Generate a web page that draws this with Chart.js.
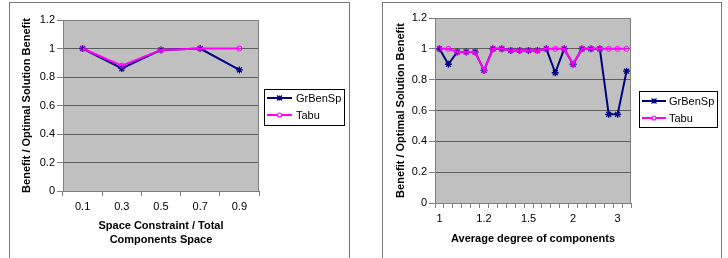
<!DOCTYPE html>
<html><head><meta charset="utf-8">
<script src="https://cdn.jsdelivr.net/npm/chart.js@4/dist/chart.umd.min.js"></script>
<style>
html,body{margin:0;padding:0;background:#fff;width:728px;height:258px;overflow:hidden;}
.frame{position:absolute;top:2px;border:1px solid #7a7a7a;border-bottom:none;height:256px;}
#f1{left:9px;width:339px;}
#f2{left:382px;width:338px;}
canvas{display:block;}
</style></head><body>
<div class="frame" id="f1"><canvas id="c1" width="339" height="255"></canvas></div>
<div class="frame" id="f2"><canvas id="c2" width="338" height="255"></canvas></div>
<script>
// ---- data ----
const spaceCategories = ['0.1','0.3','0.5','0.7','0.9'];
const spaceGrBenSp = [1.0, 0.86, 0.99, 1.0, 0.85];
const spaceTabu    = [1.0, 0.88, 0.99, 1.0, 1.0];

const degreeCategories = ['1','','','','','1.2','','','','','1.5','','','','','2','','','','','3',''];
const degreeGrBenSp = [1.0,0.9,0.98,0.98,0.98,0.86,1.0,1.0,0.99,0.99,0.99,0.99,1.0,0.845,1.0,0.9,1.0,1.0,1.0,0.575,0.575,0.855];
const degreeTabu    = [1.0,1.0,0.98,0.98,0.98,0.86,1.0,1.0,0.99,0.99,0.99,0.99,1.0,1.0,1.0,0.9,1.0,1.0,1.0,1.0,1.0,1.0];

const seriesNames = ['GrBenSp','Tabu'];
const yMin = 0, yMax = 1.2, yStep = 0.2;

const FONT = "'Liberation Sans', Arial, sans-serif";
Chart.defaults.font.family = FONT;
Chart.defaults.color = '#000';

const plotBg = {
  id: 'plotBg',
  beforeDraw(chart) {
    const {ctx, chartArea: a} = chart;
    ctx.save(); ctx.fillStyle = '#c0c0c0';
    ctx.fillRect(a.left, a.top, a.right - a.left, a.bottom - a.top);
    ctx.restore();
  },
  afterDraw(chart) {
    const {ctx, chartArea: a} = chart;
    ctx.save(); ctx.strokeStyle = '#808080'; ctx.lineWidth = 1;
    ctx.strokeRect(Math.round(a.left) + 0.5, Math.round(a.top) + 0.5, Math.round(a.right - a.left) - 1, Math.round(a.bottom - a.top));
    ctx.restore();
  }
};

function legendMarker(ctx, style, color, r, x, y) {
  ctx.save();
  ctx.strokeStyle = color; ctx.lineWidth = 1.2;
  ctx.beginPath();
  if (style === 'star') {
    ctx.moveTo(x - r, y - r); ctx.lineTo(x + r, y + r);
    ctx.moveTo(x - r, y + r); ctx.lineTo(x + r, y - r);
    ctx.moveTo(x, y - r); ctx.lineTo(x, y + r);
    ctx.stroke();
  } else {
    ctx.fillStyle = '#fff';
    ctx.arc(x, y, r, 0, Math.PI * 2);
    ctx.fill(); ctx.stroke();
  }
  ctx.restore();
}

const boxLegend = {
  id: 'boxLegend',
  afterDraw(chart, args, o) {
    const ctx = chart.ctx;
    ctx.save();
    ctx.fillStyle = '#fff'; ctx.strokeStyle = '#000'; ctx.lineWidth = 1;
    ctx.fillRect(o.x, o.y, o.w, o.h);
    ctx.strokeRect(o.x + 0.5, o.y + 0.5, o.w, o.h);
    chart.data.datasets.forEach((ds, i) => {
      const y = o.rows[i];
      ctx.strokeStyle = ds.borderColor; ctx.lineWidth = 2;
      ctx.beginPath(); ctx.moveTo(o.lx0, y); ctx.lineTo(o.lx1, y); ctx.stroke();
      legendMarker(ctx, ds.pointStyle, ds.borderColor, ds.pointStyle === 'star' ? 2.5 : 2, (o.lx0 + o.lx1) / 2, y);
      ctx.fillStyle = '#000'; ctx.font = '11px ' + FONT; ctx.textBaseline = 'middle'; ctx.textAlign = 'left';
      ctx.fillText(ds.label, o.tx, y + 0.5);
    });
    ctx.restore();
  }
};

function makeDatasets(g, t) {
  return [
    {label: seriesNames[0], data: g, borderColor: '#000080', backgroundColor: '#000080', borderWidth: 2,
     pointStyle: 'star', pointRadius: 3.5, pointBorderWidth: 1.3, pointBorderColor: '#000080', pointBackgroundColor: '#000080',
     tension: 0, order: 2},
    {label: seriesNames[1], data: t, borderColor: '#ff00ff', backgroundColor: '#ff00ff', borderWidth: 2,
     pointStyle: 'circle', pointRadius: 2.5, pointBorderWidth: 1, pointBorderColor: '#ff00ff', pointBackgroundColor: 'rgba(0,0,0,0)',
     tension: 0, order: 1}
  ];
}

function makeOptions(cfg) {
  return {
    responsive: false, animation: false, devicePixelRatio: 1,
    layout: {padding: {top: cfg.top, right: cfg.right, bottom: 0, left: 0}},
    plugins: {legend: {display: false}, tooltip: {enabled: false}, boxLegend: cfg.legend},
    scales: {
      x: {
        type: 'category', offset: true,
        grid: {offset: true, drawOnChartArea: false, drawTicks: true, tickLength: 5, color: '#808080'},
        border: {display: true, color: '#6b6b6b'},
        ticks: {autoSkip: false, maxRotation: 0, padding: 4, font: {size: 11}, color: '#000'},
        title: {display: true, text: cfg.xTitle, font: {size: 11, weight: 'bold', lineHeight: '14px'}, padding: {top: 0, bottom: cfg.xTitlePad}, color: '#000'},
        afterFit(s) { s.height = cfg.xHeight; }
      },
      y: {
        min: yMin, max: yMax,
        ticks: {stepSize: yStep, padding: 2, font: {size: 11}, color: '#000',
                callback: v => String(Number(v.toFixed(1)))},
        grid: {color: '#5e5e5e', tickColor: '#808080', tickLength: 6},
        border: {display: true, color: '#6b6b6b'},
        title: {display: true, text: 'Benefit / Optimal Solution Benefit', font: {size: 11, weight: 'bold', lineHeight: '14px'}, padding: {top: cfg.yTitlePad, bottom: 0}, color: '#000'},
        afterFit(s) { s.width = cfg.yWidth; }
      }
    }
  };
}

new Chart(document.getElementById('c1'), {
  type: 'line',
  data: {labels: spaceCategories, datasets: makeDatasets(spaceGrBenSp, spaceTabu)},
  options: makeOptions({top: 17, right: 90, xHeight: 67, yWidth: 53, xTitlePad: 11, yTitlePad: 10,
    xTitle: ['Space Constraint / Total', 'Components Space'],
    legend: {x: 254, y: 86, w: 80, h: 36, rows: [95, 112], lx0: 257, lx1: 282, tx: 286}}),
  plugins: [plotBg, boxLegend]
});

new Chart(document.getElementById('c2'), {
  type: 'line',
  data: {labels: degreeCategories, datasets: makeDatasets(degreeGrBenSp, degreeTabu)},
  options: makeOptions({top: 15, right: 90, xHeight: 55, yWidth: 52, xTitlePad: 12, yTitlePad: 11,
    xTitle: 'Average degree of components',
    legend: {x: 256, y: 88, w: 78, h: 36, rows: [98, 115], lx0: 259, lx1: 283, tx: 286}}),
  plugins: [plotBg, boxLegend]
});
</script>
</body></html>
